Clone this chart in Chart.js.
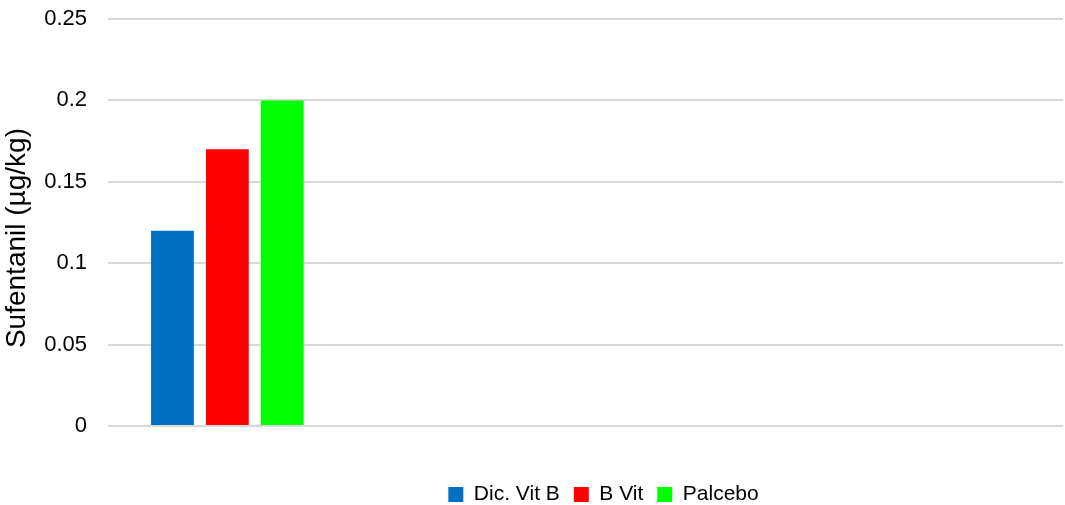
<!DOCTYPE html>
<html>
<head>
<meta charset="utf-8">
<script src="https://cdn.jsdelivr.net/npm/chart.js@4.4.1/dist/chart.umd.min.js"></script>
<style>
html,body{margin:0;padding:0;background:#fff;}
#wrap{width:1065px;height:505px;position:relative;}
</style>
</head>
<body>
<div id="wrap"><canvas id="c" width="1065" height="505"></canvas></div>
<script>
const categories = ['', '', '', ''];
const dicVitB = [0.12, null, null, null];
const bVit = [0.17, null, null, null];
const placebo = [0.2, null, null, null];
const seriesNames = ['Dic. Vit B', 'B Vit', 'Palcebo'];
const yTicks = [0, 0.05, 0.1, 0.15, 0.2, 0.25];
const yTitle = 'Sufentanil (µg/kg)';

const legendShift = {
  id: 'legendShift',
  afterLayout(chart) {
    const l = chart.legend;
    if (!l) return;
    const dx = 72, dy = 10;
    l.left += dx; l.right += dx; l.top += dy; l.bottom += dy;
  }
};

new Chart(document.getElementById('c'), {
  type: 'bar',
  data: {
    labels: categories,
    datasets: [
      { label: seriesNames[0], data: dicVitB, backgroundColor: '#0070c0', barPercentage: 0.78, categoryPercentage: 0.69 },
      { label: seriesNames[1], data: bVit, backgroundColor: '#ff0000', barPercentage: 0.78, categoryPercentage: 0.69 },
      { label: seriesNames[2], data: placebo, backgroundColor: '#00ff00', barPercentage: 0.78, categoryPercentage: 0.69 }
    ]
  },
  options: {
    responsive: false,
    animation: false,
    devicePixelRatio: 1,
    layout: { padding: { top: 19, right: 2, bottom: 0, left: 0 } },
    plugins: {
      tooltip: { enabled: false },
      legend: {
        position: 'bottom',
        labels: {
          boxWidth: 15, boxHeight: 15, padding: 14,
          color: '#000',
          font: { family: 'Liberation Sans, Arial, sans-serif', size: 21 }
        }
      }
    },
    scales: {
      x: {
        grid: { display: false },
        border: { display: false },
        ticks: { display: false },
        afterFit(s) { s.height = 34; }
      },
      y: {
        min: 0, max: 0.25,
        afterBuildTicks(s) { s.ticks = yTicks.map(v => ({ value: v })); },
        grid: { color: '#d9d9d9', lineWidth: 2, drawTicks: false },
        border: { display: false },
        ticks: {
          padding: 21,
          color: '#000',
          font: { family: 'Liberation Sans, Arial, sans-serif', size: 22 },
          callback: v => String(v)
        },
        title: {
          display: true,
          text: yTitle + '    ',
          color: '#000',
          padding: { top: 0, bottom: 0 },
          font: { family: 'Liberation Sans, Arial, sans-serif', size: 28 }
        },
        afterFit(s) { s.width = 108; s.paddingTop = 0; }
      }
    }
  },
  plugins: [legendShift]
});
</script>
</body>
</html>
